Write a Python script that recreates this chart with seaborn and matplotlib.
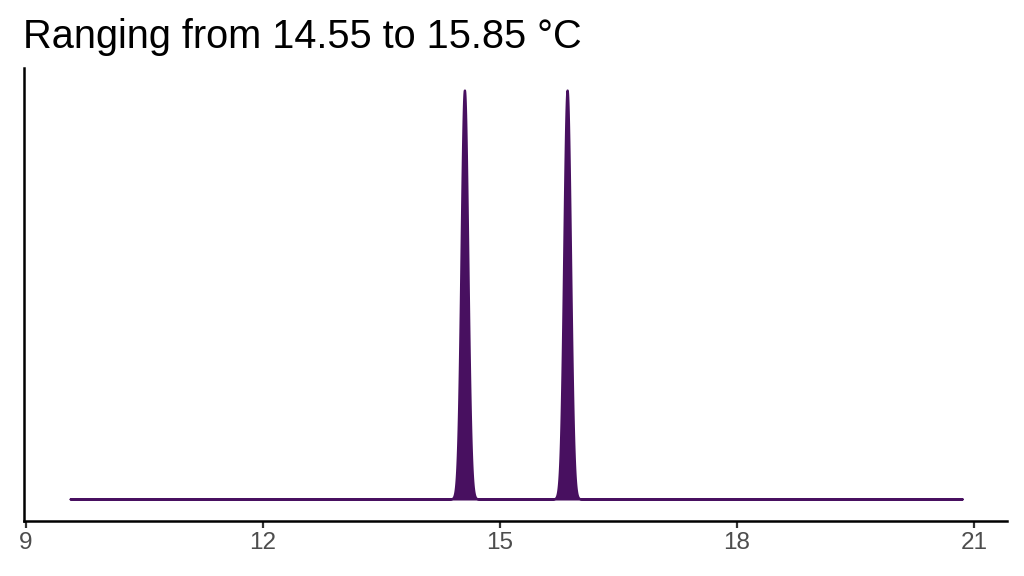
import numpy as np
import pandas as pd
import matplotlib as mpl
import matplotlib.pyplot as plt
import seaborn as sns

# the two temperatures and the span the density is drawn over
temps = [14.55, 15.85]
span = (9.56, 20.85)
xticks = [9, 12, 15, 18, 21]
title = "Ranging from 14.55 to 15.85 °C"

df = pd.DataFrame({"temp": temps})

sns.set_theme(style="white")
plt.rcParams['font.family'] = ['Liberation Sans', 'DejaVu Sans']

fig = plt.figure(figsize=(10.24, 5.76), dpi=100)
ax = fig.add_axes([0.0234, 0.0955, 0.96, 0.7865])

sns.kdeplot(data=df, x="temp", fill=True, bw_method=0.046, cut=250,
            clip=span, gridsize=8000, color="#481060", alpha=1,
            linewidth=1.6, ax=ax)

# ggplot-like 5% padding above and below the curve
peak = ax.collections[0].get_paths()[0].vertices[:, 1].max()
ax.set_ylim(-0.054 * peak, 1.054 * peak)
ax.set_xlim(8.975, 21.418)
ax.set_xticks(xticks)
ax.set_xticklabels([str(t) for t in xticks])
ax.set_yticks([])
ax.set_xlabel("")
ax.set_ylabel("")
ax.tick_params(axis="x", labelsize=17.5, labelcolor="#4D4D4D", color="#333333",
               length=5, width=1.6, bottom=True, pad=3)

# only left and bottom lines, like the reference
for side in ["top", "right"]:
    ax.spines[side].set_visible(False)
for side in ["left", "bottom"]:
    ax.spines[side].set_color("black")
    ax.spines[side].set_linewidth(1.8)

fig.text(0.022, 0.936, title, fontsize=28.6, color="black", ha="left", va="center")

fig.savefig("out.png", dpi=100)
